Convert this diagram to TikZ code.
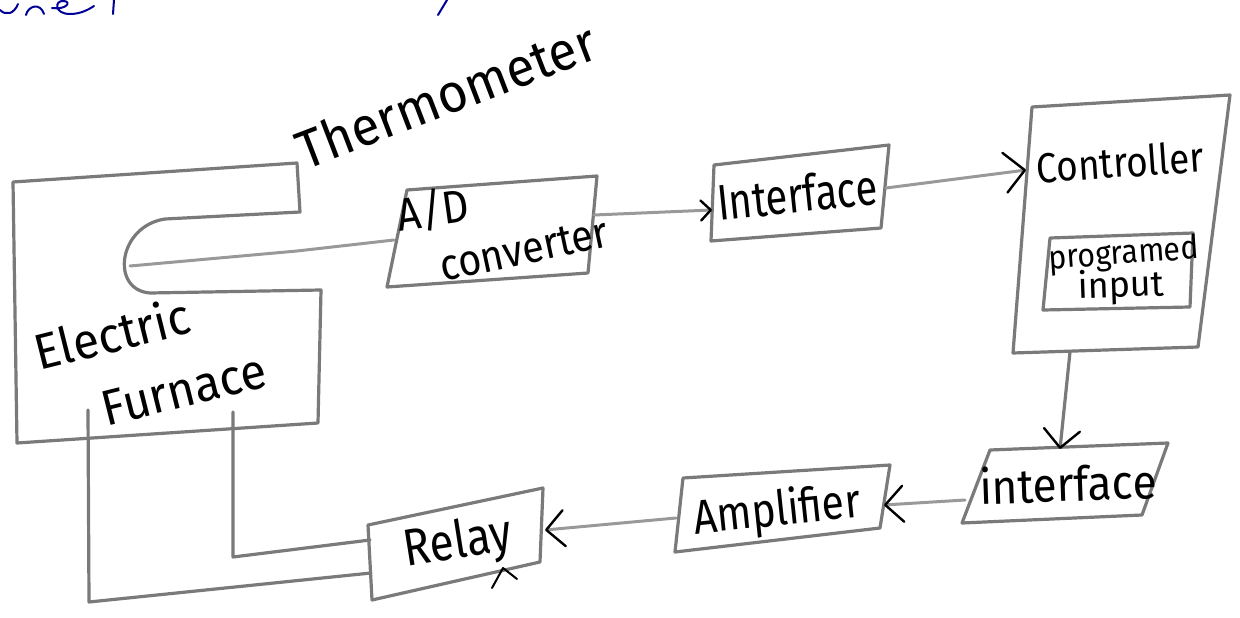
\documentclass[tikz,border=0pt]{standalone}
\usepackage{fontspec}
\setmainfont{Fira Sans}
\usetikzlibrary{arrows.meta}

% condensed handwriting-like lettering: horizontal squeeze factor, then text
\newcommand\hw[2]{\scalebox{#1}[1]{#2}}

\tikzset{
  pencil/.style={draw=black!52, line width=3.2pt, line join=round, line cap=round},
  lead/.style={draw=black!40, line width=3pt, line join=round, line cap=round},
  ink/.style={draw=black, line width=2pt, line cap=round, line join=round},
  blueink/.style={draw=blue!60!black, line width=2pt, line cap=round},
  hand/.style={text=black, inner sep=0pt, font=\fontsize{#1}{#1}\selectfont},
  hand/.default=40,
  barb/.style={-{Straight Barb[length=#1, width=2*#1, line width=2.4pt, color=black, round]}},
  barb/.default=14pt,
}

\begin{document}
\begin{tikzpicture}[x=1pt, y=-1pt]
\useasboundingbox (0,0) rectangle (1240,618);

% blue ink running off the top edge of the sheet
\draw[blueink]
  (0,10) .. controls (6,16) and (14,14) .. (18,4)
  (26,15) .. controls (28,6) and (40,2) .. (44,14)
  (52,8) .. controls (66,10) and (72,2) .. (64,1) .. controls (54,0) and (54,14) .. (70,14) .. controls (80,14) and (88,10) .. (94,6);
\draw[blueink] (114,0) -- (113,14);
\draw[blueink] (447,0) -- (438,15);

% ---- electric furnace with the thermometer well ----
\draw[pencil] (13,182) -- (297,163) -- (300,212) -- (165,219)
  .. controls (118,226) and (110,290) .. (150,293) -- (321,290)
  -- (318,423) -- (17,443) -- cycle;
\node[hand=50, rotate=14] (electric) at (112,333) {\hw{0.95}{Electric}};
\node[hand=50, rotate=14] (furnace) at (184,390) {\hw{0.95}{Furnace}};
\coordinate (therm) at (130,266);

\node[hand=54, rotate=21] (thermo) at (446,95) {\hw{0.95}{Thermometer}};

% ---- A/D converter ----
\draw[pencil] (407,190) -- (597,176) -- (588,273) -- (387,287) -- cycle;
\node[hand=46, rotate=8] (ad) at (433,210) {\hw{0.9}{A/D}};
\node[hand=44, rotate=12] (conv) at (524,250) {\hw{0.9}{converter}};
\coordinate (adc-w) at (394,240);
\coordinate (adc-e) at (594,215);

% ---- first interface ----
\draw[pencil] (714,165) -- (889,145) -- (881,228) -- (711,241) -- cycle;
\node[hand=50, rotate=6] (iface1) at (797,194) {\hw{0.8}{Interface}};
\coordinate (if1-w) at (712,210);
\coordinate (if1-e) at (886,188);

% ---- controller with programmed input ----
\draw[pencil] (1032,107) -- (1230,95) -- (1198,347) -- (1013,353) -- cycle;
\node[hand=42, rotate=4] (ctrl) at (1120,162) {\hw{0.88}{Controller}};
\coordinate (ctrl-w) at (1026,170);
\coordinate (ctrl-s) at (1070,352);
\draw[pencil] (1050,238) -- (1193,233) -- (1190,307) -- (1043,310) -- cycle;
\node[hand=33, rotate=4] (prog) at (1124,255) {\hw{0.92}{programed}};
\node[hand=36, rotate=2] (input) at (1121,287) {input};

% ---- second interface ----
\draw[pencil] (990,450) -- (1168,443) -- (1142,515) -- (962,523) -- cycle;
\node[hand=48, rotate=2] (iface2) at (1068,483) {\hw{0.92}{interface}};
\coordinate (if2-n) at (1060,449);
\coordinate (if2-w) at (965,500);

% ---- amplifier ----
\draw[pencil] (683,478) -- (890,465) -- (880,528) -- (675,552) -- cycle;
\node[hand=48, rotate=6] (amp) at (777,512) {\hw{0.85}{Amplifier}};
\coordinate (amp-e) at (884,505);
\coordinate (amp-w) at (676,518);

% ---- relay ----
\draw[pencil] (368,525) -- (543,488) -- (540,562) -- (372,600) -- cycle;
\node[hand=52, rotate=9] (relay) at (458,544) {\hw{0.85}{Relay}};
\coordinate (relay-e) at (545,530);
\coordinate (relay-w1) at (370,540);
\coordinate (relay-w2) at (371,573);
\draw[ink] (492,588) -- (503,568) -- (517,579);

% ---- signal path ----
\draw[lead] (therm) -- (297,251) -- (adc-w);
\draw[lead, barb=10pt] (adc-e) -- (if1-w);
\draw[lead, barb=20pt] (if1-e) -- (ctrl-w);
\draw[pencil, barb=18pt] (ctrl-s) -- (if2-n);
\draw[lead, barb=18pt] (if2-w) -- (amp-e);
\draw[lead, barb=18pt] (amp-w) -- (relay-e);

% ---- supply wires from relay to furnace ----
\coordinate (f-w1) at (233,412);
\coordinate (f-w2) at (88,410);
\draw[pencil] (relay-w1) -- (233,557) -- (f-w1);
\draw[pencil] (relay-w2) -- (89,602) -- (f-w2);
\end{tikzpicture}
\end{document}
